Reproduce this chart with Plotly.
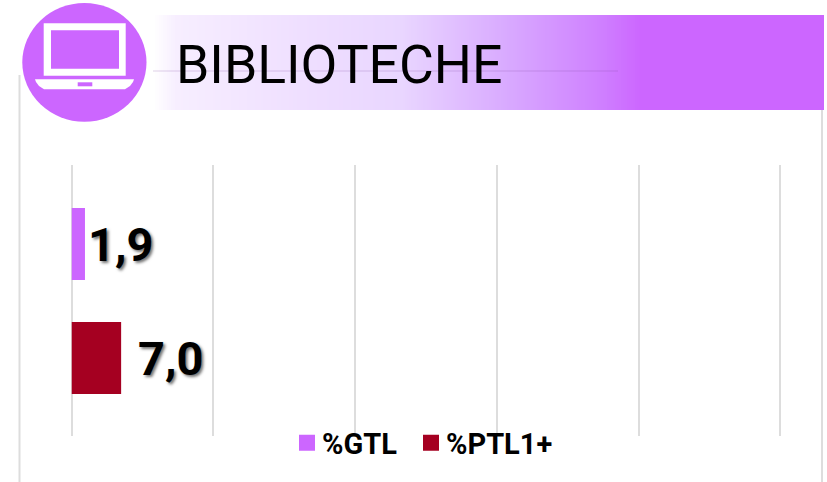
import plotly.graph_objects as go

W, H = 827, 482
series_names = ["%GTL", "%PTL1+"]
series_values = [1.9, 7.0]
value_labels = ["1,9", "7,0"]
series_colors = ["#CC66FF", "#A50021"]
label_shifts = [1, 15]
title_text = "BIBLIOTECHE"

GRID = "#DDDDDD"
PURPLE = "#CC66FF"


def px(x):
    return x / W


def py(y):
    return 1 - y / H


def rect(x0, y0, x1, y1, color, layer="below"):
    return dict(type="rect", xref="paper", yref="paper", x0=px(x0), x1=px(x1),
                y0=py(y0), y1=py(y1), fillcolor=color, line=dict(width=0), layer=layer)


def vline(x, y0, y1):
    return dict(type="line", xref="paper", yref="paper", x0=px(x), x1=px(x),
                y0=py(y0), y1=py(y1), line=dict(color=GRID, width=2), layer="below")


gradient_stops = [
    (153, (255, 255, 255)), (175, (247, 238, 255)), (300, (239, 223, 255)),
    (400, (233, 214, 255)), (510, (216, 168, 255)), (600, (207, 128, 255)),
    (640, (204, 102, 255)),
]


def band_color(x):
    for (a, ca), (b, cb) in zip(gradient_stops, gradient_stops[1:]):
        if x <= b:
            t = (x - a) / (b - a)
            return "rgb(%d,%d,%d)" % tuple(round(u + (v - u) * t) for u, v in zip(ca, cb))
    return PURPLE


shapes = [vline(19.5, 75, 482), vline(822, 110, 482)]
for x in range(153, 640, 2):
    shapes.append(rect(x, 15, x + 2.5, 110, band_color(x)))
shapes.append(rect(640, 15, 824, 110, PURPLE))
shapes.append(dict(type="line", xref="paper", yref="paper", x0=px(153), x1=px(618),
                   y0=py(71), y1=py(71), line=dict(color="rgba(130,80,160,0.13)", width=2),
                   layer="below"))
shapes.append(dict(type="circle", xref="paper", yref="paper", x0=px(22.3), x1=px(146.5),
                   y0=py(121.7), y1=py(3), fillcolor=PURPLE, line=dict(width=0), layer="below"))
shapes.append(rect(43.7, 23.3, 125.7, 75.7, "white"))
shapes.append(rect(51, 30.3, 119, 68.7, PURPLE))
base = [(35, 79.3), (134, 79.3), (133, 82), (130, 86), (125, 89.3), (44, 89.3), (39, 86), (36, 82)]
shapes.append(dict(type="path", xref="paper", yref="paper",
                   path="M" + " L".join(f"{px(a):.5f},{py(b):.5f}" for a, b in base) + " Z",
                   fillcolor="white", line=dict(width=0), layer="below"))
shapes.append(rect(77.7, 82.3, 92.3, 86.3, PURPLE))

fig = go.Figure()
for name, val, color in zip(series_names, series_values, series_colors):
    fig.add_trace(go.Bar(y=[name], x=[val], orientation="h", width=0.63, marker=dict(color=color, line=dict(width=0)),
                         showlegend=False))
for i, (name, color) in enumerate(zip(series_names, series_colors)):
    fig.add_trace(go.Scatter(x=[None], y=[None], mode="markers", name=name, showlegend=True,
                             legend="legend" if i == 0 else "legend2",
                             marker=dict(symbol="square", size=16, color=color, line=dict(width=0),
                                         angle=90, standoff=5)))

annotations = [
    dict(x=v, y=n, text=t, xref="x", yref="y", xanchor="left", yanchor="middle", showarrow=False,
         xshift=s, font=dict(family="Roboto", size=47, color="black", weight="bold",
                             shadow="2px 2px 3px rgba(0,0,0,0.55)"))
    for v, n, t, s in zip(series_values, series_names, value_labels, label_shifts)
]
annotations.append(dict(x=px(174), y=py(65), xref="paper", yref="paper", text=title_text, xanchor="left",
                        yanchor="middle", showarrow=False, font=dict(family="Roboto", size=53.5, color="black")))

legend_style = dict(orientation="h", xanchor="left", yanchor="middle", y=py(443), indentation=-5,
                    font=dict(family="Roboto", size=29, color="black", weight="bold"),
                    bgcolor="rgba(0,0,0,0)", itemclick=False)

fig.update_layout(
    width=W, height=H, autosize=False, margin=dict(l=0, r=0, t=0, b=0),
    paper_bgcolor="white", plot_bgcolor="rgba(0,0,0,0)", barmode="overlay",
    font=dict(family="Roboto"), shapes=shapes, annotations=annotations,
    xaxis=dict(domain=[px(71.5), px(782.6)], range=[0, 100.3], dtick=20, showgrid=True, gridcolor=GRID, gridwidth=2,
               zeroline=True, zerolinecolor=GRID, zerolinewidth=2, showticklabels=False, ticks="", showline=False),
    yaxis=dict(domain=[py(436), py(165)], type="category", categoryorder="array", categoryarray=series_names,
               range=[1.684, -0.693], showgrid=False, zeroline=False, showticklabels=False, ticks="", showline=False),
    legend=dict(x=px(287), **legend_style),
    legend2=dict(x=px(411), **legend_style),
)
fig.write_html("out.html", post_script="document.body.style.margin='0';document.body.style.overflow='hidden';",
               config=dict(displayModeBar=False))
